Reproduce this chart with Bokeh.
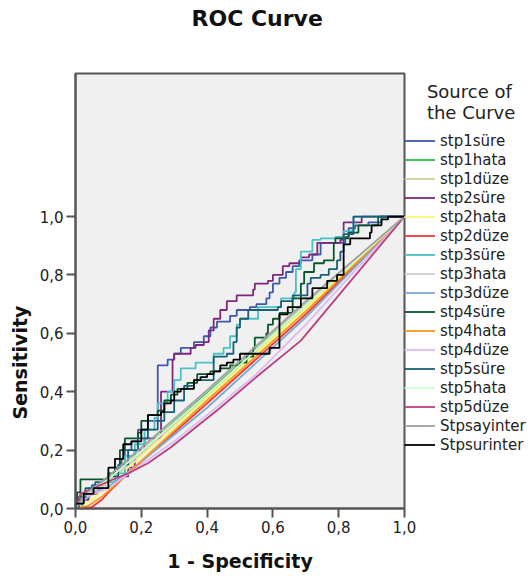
from bokeh.plotting import figure
from bokeh.models import Range1d, FixedTicker, CustomJSTickFormatter, Legend, LegendItem, Title
from bokeh.embed import file_html
from bokeh.resources import INLINE

# ---------------- data ----------------
series_names = ["stp1süre", "stp1hata", "stp1düze", "stp2süre", "stp2hata", "stp2düze",
                "stp3süre", "stp3hata", "stp3düze", "stp4süre", "stp4hata", "stp4düze",
                "stp5süre", "stp5hata", "stp5düze", "Stpsayinter", "Stpsurinter"]
series_colors = ["#3E58AC", "#2EB848", "#D3CE97", "#7C287D", "#FBF873", "#EF3338",
                 "#48C2C5", "#CCCCCC", "#7AAAD5", "#0A562C", "#F8981D", "#DDBAF1",
                 "#1A5F76", "#CCFFCC", "#BB3F7F", "#A0A0A0", "#000000"]
# step (staircase) curves
stepped = ["stp1süre", "stp2süre", "stp3süre", "stp4süre", "stp5süre", "Stpsurinter"]

stp1sure_fpr = [0, 0, 0.03, 0.05, 0.09, 0.12, 0.14, 0.15, 0.17, 0.19, 0.22, 0.25, 0.28, 0.30, 0.32, 0.36, 0.39, 0.41, 0.43, 0.47, 0.49, 0.53, 0.55, 0.58, 0.59, 0.60, 0.62, 0.64, 0.66, 0.68, 0.72, 0.745, 0.82, 0.83, 0.85, 0.89, 0.93, 1.0]
stp1sure_tpr = [0, 0.03, 0.05, 0.08, 0.10, 0.14, 0.17, 0.20, 0.23, 0.27, 0.30, 0.49, 0.51, 0.53, 0.55, 0.57, 0.59, 0.62, 0.64, 0.66, 0.68, 0.69, 0.70, 0.72, 0.74, 0.77, 0.79, 0.81, 0.83, 0.85, 0.87, 0.91, 0.93, 0.96, 0.97, 0.98, 1.0, 1.0]

stp2sure_fpr = [0, 0.01, 0.04, 0.07, 0.10, 0.13, 0.16, 0.18, 0.21, 0.26, 0.26, 0.295, 0.30, 0.35, 0.365, 0.39, 0.405, 0.42, 0.44, 0.46, 0.49, 0.54, 0.545, 0.585, 0.60, 0.63, 0.65, 0.685, 0.71, 0.735, 0.805, 0.815, 0.87, 1.0]
stp2sure_tpr = [0, 0.03, 0.05, 0.07, 0.09, 0.11, 0.14, 0.20, 0.24, 0.26, 0.40, 0.51, 0.53, 0.55, 0.56, 0.57, 0.61, 0.65, 0.68, 0.71, 0.73, 0.75, 0.77, 0.78, 0.80, 0.83, 0.84, 0.86, 0.87, 0.91, 0.92, 0.98, 1.0, 1.0]

stp3sure_fpr = [0, 0.02, 0.04, 0.08, 0.12, 0.15, 0.18, 0.21, 0.24, 0.25, 0.28, 0.30, 0.32, 0.365, 0.42, 0.45, 0.47, 0.49, 0.50, 0.555, 0.625, 0.665, 0.67, 0.685, 0.72, 0.745, 0.79, 0.815, 0.845, 1.0]
stp3sure_tpr = [0, 0.04, 0.07, 0.09, 0.12, 0.18, 0.22, 0.27, 0.31, 0.36, 0.40, 0.44, 0.48, 0.50, 0.53, 0.55, 0.59, 0.63, 0.65, 0.69, 0.72, 0.74, 0.82, 0.88, 0.92, 0.925, 0.93, 0.95, 1.0, 1.0]

stp4sure_fpr = [0, 0.005, 0.015, 0.10, 0.12, 0.135, 0.15, 0.19, 0.20, 0.22, 0.25, 0.27, 0.29, 0.31, 0.34, 0.37, 0.41, 0.44, 0.47, 0.50, 0.52, 0.54, 0.545, 0.58, 0.585, 0.60, 0.62, 0.66, 0.685, 0.695, 0.725, 0.755, 0.785, 0.79, 0.83, 0.86, 0.92, 1.0]
stp4sure_tpr = [0, 0.055, 0.10, 0.12, 0.135, 0.20, 0.24, 0.26, 0.30, 0.32, 0.335, 0.37, 0.39, 0.41, 0.43, 0.46, 0.47, 0.48, 0.49, 0.50, 0.52, 0.55, 0.585, 0.60, 0.63, 0.65, 0.67, 0.72, 0.77, 0.81, 0.84, 0.85, 0.91, 0.925, 0.945, 0.97, 1.0, 1.0]

stp5sure_fpr = [0, 0.01, 0.03, 0.06, 0.10, 0.13, 0.16, 0.19, 0.22, 0.25, 0.27, 0.30, 0.33, 0.36, 0.42, 0.42, 0.46, 0.48, 0.49, 0.50, 0.525, 0.615, 0.625, 0.66, 0.705, 0.715, 0.745, 0.77, 0.795, 0.805, 0.815, 0.845, 1.0]
stp5sure_tpr = [0, 0.04, 0.07, 0.09, 0.11, 0.15, 0.20, 0.24, 0.27, 0.30, 0.33, 0.37, 0.42, 0.44, 0.48, 0.52, 0.53, 0.57, 0.62, 0.65, 0.68, 0.69, 0.71, 0.73, 0.77, 0.79, 0.80, 0.82, 0.85, 0.88, 0.94, 1.0, 1.0]

stpsurinter_fpr = [0, 0, 0.025, 0.055, 0.10, 0.12, 0.145, 0.17, 0.20, 0.22, 0.26, 0.27, 0.29, 0.30, 0.32, 0.36, 0.38, 0.40, 0.42, 0.44, 0.46, 0.48, 0.50, 0.59, 0.62, 0.645, 0.685, 0.72, 0.765, 0.795, 0.815, 0.815, 0.835, 0.895, 0.90, 0.93, 0.95, 1.0]
stpsurinter_tpr = [0, 0.017, 0.05, 0.07, 0.14, 0.17, 0.22, 0.23, 0.27, 0.32, 0.33, 0.36, 0.37, 0.40, 0.41, 0.44, 0.45, 0.46, 0.47, 0.49, 0.50, 0.51, 0.53, 0.55, 0.665, 0.69, 0.72, 0.755, 0.78, 0.80, 0.82, 0.905, 0.925, 0.945, 0.97, 0.99, 1.0, 1.0]

# near-diagonal (smooth) curves
stp1hata_fpr = [0, 0.02, 0.05, 0.10, 0.40, 0.70, 1.0]
stp1hata_tpr = [0, 0.05, 0.07, 0.10, 0.395, 0.70, 1.0]
stp1duze_fpr = [0, 0.04, 0.10, 0.40, 0.70, 1.0]
stp1duze_tpr = [0, 0.04, 0.09, 0.385, 0.69, 1.0]
stp2hata_fpr = [0, 0.05, 0.10, 0.40, 0.70, 1.0]
stp2hata_tpr = [0, 0.03, 0.08, 0.38, 0.685, 1.0]
stp2duze_fpr = [0, 0.05, 0.08, 0.10, 0.15, 0.40, 0.70, 1.0]
stp2duze_tpr = [0, 0.005, 0.03, 0.055, 0.11, 0.36, 0.665, 1.0]
stp3hata_fpr = [0, 0.03, 0.10, 0.40, 0.70, 1.0]
stp3hata_tpr = [0, 0.04, 0.09, 0.39, 0.70, 1.0]
stp3duze_fpr = [0, 0.05, 0.10, 0.20, 0.40, 0.70, 1.0]
stp3duze_tpr = [0, 0.05, 0.075, 0.16, 0.345, 0.655, 1.0]
stp4hata_fpr = [0, 0.04, 0.08, 0.12, 0.40, 0.70, 1.0]
stp4hata_tpr = [0, 0.01, 0.04, 0.08, 0.37, 0.675, 1.0]
stp4duze_fpr = [0, 0.03, 0.10, 0.20, 0.30, 0.40, 0.55, 0.70, 1.0]
stp4duze_tpr = [0, 0.04, 0.07, 0.15, 0.23, 0.32, 0.46, 0.63, 1.0]
stp5hata_fpr = [0, 0.03, 0.10, 0.40, 0.70, 1.0]
stp5hata_tpr = [0, 0.05, 0.10, 0.39, 0.695, 1.0]
stp5duze_fpr = [0, 0.015, 0.055, 0.105, 0.16, 0.22, 0.29, 0.44, 0.56, 0.685, 1.0]
stp5duze_tpr = [0, 0.05, 0.07, 0.095, 0.12, 0.155, 0.21, 0.345, 0.46, 0.575, 1.0]
stpsayinter_fpr = [0, 0.03, 0.10, 0.40, 0.70, 1.0]
stpsayinter_tpr = [0, 0.05, 0.11, 0.405, 0.71, 1.0]

curve_fpr = [stp1sure_fpr, stp1hata_fpr, stp1duze_fpr, stp2sure_fpr, stp2hata_fpr, stp2duze_fpr,
             stp3sure_fpr, stp3hata_fpr, stp3duze_fpr, stp4sure_fpr, stp4hata_fpr, stp4duze_fpr,
             stp5sure_fpr, stp5hata_fpr, stp5duze_fpr, stpsayinter_fpr, stpsurinter_fpr]
curve_tpr = [stp1sure_tpr, stp1hata_tpr, stp1duze_tpr, stp2sure_tpr, stp2hata_tpr, stp2duze_tpr,
             stp3sure_tpr, stp3hata_tpr, stp3duze_tpr, stp4sure_tpr, stp4hata_tpr, stp4duze_tpr,
             stp5sure_tpr, stp5hata_tpr, stp5duze_tpr, stpsayinter_tpr, stpsurinter_tpr]

axis_ticks = [0.0, 0.2, 0.4, 0.6, 0.8, 1.0]

# ---------------- figure ----------------
FONT = "DejaVu Sans"
p = figure(frame_width=329, frame_height=435,
           x_range=Range1d(0, 1), y_range=Range1d(0, 1.49),
           output_backend="svg", toolbar_location=None,
           min_border_left=75, min_border_right=128, min_border_top=73, min_border_bottom=73,
           background_fill_color="#F0F0F0", border_fill_color="white",
           outline_line_color="#555555", outline_line_width=2)
p.xgrid.visible = False
p.ygrid.visible = False

xax = p.xaxis[0]
yax = p.yaxis[0]

fmt = "return tick.toFixed(1).replace('.', ',');"
for ax in (xax, yax):
    ax.ticker = FixedTicker(ticks=axis_ticks)
    ax.formatter = CustomJSTickFormatter(code=fmt)
    ax.axis_line_color = "#555555"
    ax.axis_line_width = 2
    ax.major_tick_line_color = "#555555"
    ax.major_tick_line_width = 2
    ax.major_tick_in = 0
    ax.major_tick_out = 9
    ax.minor_tick_line_color = None
    ax.major_label_text_font = FONT
    ax.major_label_text_font_size = "15px"
    ax.major_label_text_color = "#222222"
    ax.major_label_standoff = 3

xax.axis_label = "1 - Specificity"
xax.axis_label_text_font = FONT
xax.axis_label_text_font_style = "bold"
xax.axis_label_text_font_size = "19px"
xax.axis_label_text_color = "#111111"
xax.axis_label_standoff = 14

# blank spacer between the frame and the title, so the title sits at the top of the page
p.add_layout(Title(text=" ", text_font=FONT, text_font_size="10px", standoff=28), "above")

p.title = Title(text="ROC Curve", align="left", offset=116, vertical_align="top", standoff=0,
                text_font=FONT, text_font_style="bold", text_font_size="22px",
                text_color="#111111")

# y-axis title, centred on the 0..1 part of the axis as in the original
p.add_layout(Title(text="Sensitivity", align="left", offset=89, vertical_align="middle", standoff=10,
                   text_font=FONT, text_font_style="bold", text_font_size="19px",
                   text_color="#111111"), "left")

items = []
for name, col, fx, fy in zip(series_names, series_colors, curve_fpr, curve_tpr):
    if name in stepped:
        r = p.step(fx, fy, mode="after", line_color=col, line_width=1.8)
    else:
        r = p.line(fx, fy, line_color=col, line_width=1.8)
    items.append(LegendItem(label=name, renderers=[r]))

legend = Legend(items=items, location=(0, 54), orientation="vertical",
                title="\u00a0\u00a0\u00a0\u00a0Source of\n\u00a0\u00a0\u00a0\u00a0the Curve",
                title_text_font=FONT, title_text_font_size="18px", title_text_color="#222222",
                title_text_font_style="normal", title_standoff=8,
                label_text_font=FONT, label_text_font_size="15px", label_text_color="#222222",
                glyph_width=31, glyph_height=19, label_height=19, label_standoff=5,
                spacing=0, padding=3, margin=0,
                border_line_color=None, background_fill_alpha=0)
p.add_layout(legend, "right")

open("out.html", "w").write(file_html(p, INLINE))
